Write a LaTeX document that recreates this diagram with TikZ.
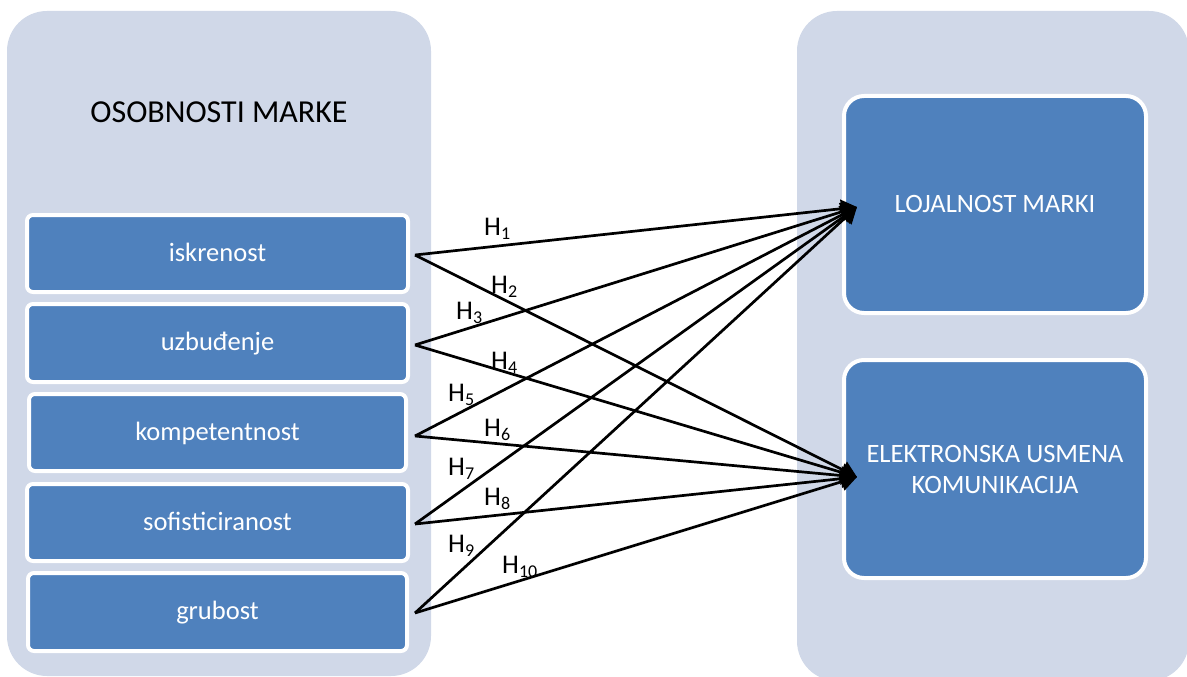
\documentclass[tikz,border=0pt]{standalone}
\usepackage{fontspec}
\setmainfont{Carlito}
\usetikzlibrary{arrows.meta}
\definecolor{panelbg}{HTML}{D0D8E8}
\definecolor{boxblue}{HTML}{4F81BD}
\newcommand\Hsub[1]{H\raisebox{-4.5pt}{\fontsize{18}{18}\selectfont #1}}
\begin{document}
\begin{tikzpicture}[x=1pt,y=-1pt,
  panel/.style={fill=panelbg, rounded corners=40pt, inner sep=0pt, draw=none},
  leftbox/.style={draw=white, line width=4pt, fill=boxblue, rounded corners=6pt,
    text=white, font=\fontsize{26.5}{31}\selectfont, minimum width=381pt,
    minimum height=77pt, text height=15pt, text depth=0pt, inner sep=0pt},
  rightbox/.style={draw=white, line width=4pt, fill=boxblue, rounded corners=20pt,
    text=white, font=\fontsize{26.5}{31}\selectfont, minimum width=302pt,
    minimum height=217pt, inner sep=0pt, align=center},
  hypline/.style={line width=2.7pt, -{Triangle[length=16pt,width=18pt]}},
  hlabel/.style={anchor=base west, inner sep=0pt, font=\fontsize{27}{30}\selectfont}
]
\useasboundingbox (0,0) rectangle (1187,677);
% panels
\node[panel, minimum width=424pt, minimum height=665pt] (panelL) at (219,343.5) {};
\node[panel, minimum width=392pt, minimum height=670pt] (panelR) at (993,346) {};
\node[anchor=base, inner sep=0pt, font=\fontsize{32}{36}\selectfont] (title) at (219,122) {OSOBNOSTI MARKE};
% left boxes
\node[leftbox] (isk) at (217.5,253.5) {iskrenost};
\node[leftbox, minimum height=78pt] (uzb) at (217.5,343) {uzbuđenje};
\node[leftbox, minimum width=377pt] (komp) at (217.5,432.5) {kompetentnost};
\node[leftbox] (sof) at (217.5,522.5) {sofisticiranost};
\node[leftbox, minimum width=379pt, minimum height=78pt] (grub) at (217.5,612) {grubost};
% right boxes
\node[rightbox, text height=15pt, text depth=0pt] (loj) at (995,204.5) {LOJALNOST MARKI};
\node[rightbox, minimum height=218pt] (ewom) at (995,469) {ELEKTRONSKA USMENA\\KOMUNIKACIJA};
% connector ends
\coordinate (s1) at (415,255);
\coordinate (s2) at (415,345);
\coordinate (s3) at (415,436);
\coordinate (s4) at (415,524);
\coordinate (s5) at (415,613);
\coordinate (tL) at (857,207);
\coordinate (tE) at (857,477);
% connectors
\draw[hypline] (s1) -- (tL);
\draw[hypline] (s1) -- (tE);
\draw[hypline] (s2) -- (tL);
\draw[hypline] (s2) -- (tE);
\draw[hypline] (s3) -- (tL);
\draw[hypline] (s3) -- (tE);
\draw[hypline] (s4) -- (tL);
\draw[hypline] (s4) -- (tE);
\draw[hypline] (s5) -- (tL);
\draw[hypline] (s5) -- (tE);
% labels
\node[hlabel] (h1) at (484,235) {\Hsub{1}};
\node[hlabel] (h2) at (491,293) {\Hsub{2}};
\node[hlabel] (h3) at (456,319) {\Hsub{3}};
\node[hlabel] (h4) at (491,369) {\Hsub{4}};
\node[hlabel] (h5) at (448,401) {\Hsub{5}};
\node[hlabel] (h6) at (484,436) {\Hsub{6}};
\node[hlabel] (h7) at (448,475) {\Hsub{7}};
\node[hlabel] (h8) at (484,505) {\Hsub{8}};
\node[hlabel] (h9) at (448,552) {\Hsub{9}};
\node[hlabel] (h10) at (502,573) {\Hsub{10}};
\end{tikzpicture}
\end{document}
